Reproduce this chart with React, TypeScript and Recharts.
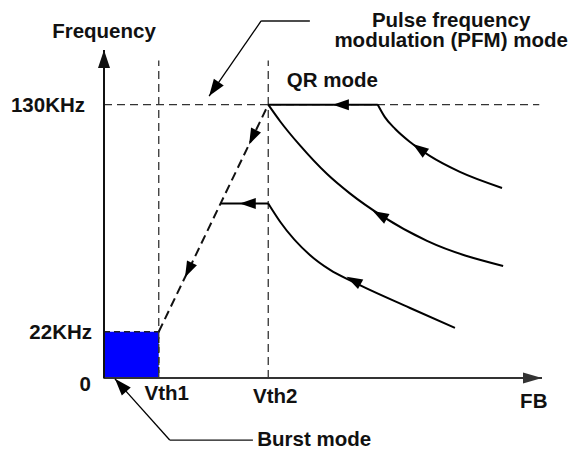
import React from 'react';
import { LineChart, Line, XAxis, YAxis, ReferenceLine, ReferenceArea, ReferenceDot } from 'recharts';

// axis extents (FB in arbitrary units, frequency in kHz)
const X_MAX = 8;
const Y_MAX = 156;
const GUIDE_TOP = 151;

const vthValues = [1, 3];
const vthLabels = ['Vth1', 'Vth2'];
const freqTicks = [0, 22, 130];
const freqLabels = ['0', '22KHz', '130KHz'];

const burstFreq = 22;
const maxFreq = 130;

// solid trajectories
const qrHold = [{ x: 3, y: 130 }, { x: 5, y: 130 }];
const pfmHold = [{ x: 2.13, y: 83 }, { x: 3, y: 83 }];
const curveTop = [
  { x: 5.0, y: 130 }, { x: 5.13, y: 124.1 }, { x: 5.32, y: 118.4 }, { x: 5.59, y: 112.2 },
  { x: 5.95, y: 105.6 }, { x: 6.5, y: 98.0 }, { x: 7.27, y: 90.4 },
];
const curveMid = [
  { x: 3.0, y: 130 }, { x: 3.22, y: 122.0 }, { x: 3.58, y: 110.6 }, { x: 4.07, y: 97.1 },
  { x: 4.49, y: 87.8 }, { x: 5.08, y: 77.0 }, { x: 5.9, y: 65.2 }, { x: 7.29, y: 53.3 },
];
const curveLow = [
  { x: 3.0, y: 83 }, { x: 3.22, y: 74.2 }, { x: 3.76, y: 58.5 },
  { x: 4.13, y: 51.4 }, { x: 4.55, y: 45.7 }, { x: 5.59, y: 33.3 }, { x: 6.41, y: 23.8 },
];

// direction arrows along the paths: [tail, tip]
const flowArrows = [
  [{ x: 4.5, y: 130 }, { x: 4.18, y: 130 }],
  [{ x: 2.8, y: 83 }, { x: 2.48, y: 83 }],
  [{ x: 5.95, y: 105.6 }, { x: 5.64, y: 111.3 }],
  [{ x: 5.15, y: 75.9 }, { x: 4.91, y: 79.4 }],
  [{ x: 4.68, y: 44.7 }, { x: 4.43, y: 48.2 }],
  [{ x: 2.9, y: 124.6 }, { x: 2.65, y: 111.1 }],
  [{ x: 1.7, y: 59.8 }, { x: 1.48, y: 47.9 }],
];

// callout leaders
const pfmLeader = [{ x: 3.76, y: 169.8 }, { x: 2.87, y: 169.8 }, { x: 1.92, y: 134.1 }];
const burstLeader = [{ x: 2.72, y: -29.5 }, { x: 1.2, y: -29.5 }, { x: 0.2, y: -0.4 }];

const notes = [
  { x: 0, y: 161.7, lines: ['Frequency'], anchor: 'middle' },
  { x: 6.34, y: 167.0, lines: ['Pulse frequency', 'modulation (PFM) mode'], anchor: 'middle' },
  { x: 3.34, y: 138.4, lines: ['QR mode'], anchor: 'start' },
  { x: 7.85, y: -14.3, lines: ['FB'], anchor: 'middle' },
  { x: 2.8, y: -32.3, lines: ['Burst mode'], anchor: 'start' },
];

const FONT = {
  fontFamily: '"Liberation Sans", Arial, sans-serif',
  fontWeight: 700,
  fontSize: 20.5,
  fill: '#111',
  style: { fontWeight: 'bold' },
};

const headPoints = (x1: number, y1: number, x2: number, y2: number, len: number, half: number) => {
  const a = Math.atan2(y2 - y1, x2 - x1);
  const bx = x2 - len * Math.cos(a);
  const by = y2 - len * Math.sin(a);
  const nx = -Math.sin(a) * half;
  const ny = Math.cos(a) * half;
  return `${x2},${y2} ${bx + nx},${by + ny} ${bx - nx},${by - ny}`;
};

const arrow = (o: { stroke: string; width: number; len: number; half: number; line?: boolean }) => (p: any) => {
  const x1 = +p.x1, y1 = +p.y1, x2 = +p.x2, y2 = +p.y2;
  return (
    <g>
      {o.line !== false && <line x1={x1} y1={y1} x2={x2} y2={y2} stroke={o.stroke} strokeWidth={o.width} />}
      <polygon points={headPoints(x1, y1, x2, y2, o.len, o.half)} fill={o.stroke} />
    </g>
  );
};

const noteShape = (lines: string[], anchor: string) => (p: any) => (
  <text x={p.cx} y={p.cy} textAnchor={anchor} {...FONT}>
    {lines.map((l, i) => (
      <tspan key={l} x={p.cx} dy={i === 0 ? 0 : 20}>{l}</tspan>
    ))}
  </text>
);

const vthShift: Record<string, [number, number]> = { Vth1: [8, 22], Vth2: [7, 25] };
const VthTick = (p: any) => {
  const label = vthLabels[vthValues.indexOf(p.payload.value)];
  const [dx, dy] = vthShift[label] || [0, 20];
  return <text x={p.x + dx} y={p.y + dy} textAnchor="middle" {...FONT}>{label}</text>;
};

const freqShift: Record<number, [number, number]> = { 0: [-13, 13], 22: [-12, 7], 130: [-19, 7] };
const FreqTick = (p: any) => {
  const v = p.payload.value;
  const label = freqLabels[freqTicks.indexOf(v)];
  const [dx, dy] = freqShift[v] || [-12, 7];
  return <text x={p.x + dx} y={p.y + dy} textAnchor="end" {...FONT}>{label}</text>;
};

const guide = { stroke: '#333', strokeWidth: 1.3, strokeDasharray: '8 5' };

export default function App() {
  return (
    <div style={{ position: 'absolute', left: 0, top: 0, width: 571, height: 450, background: '#fff' }}>
      <LineChart width={571} height={450} margin={{ top: 50, right: 29, bottom: 0, left: 0 }}>
        <XAxis type="number" dataKey="x" domain={[0, X_MAX]} allowDataOverflow ticks={vthValues}
          height={72} axisLine={false} tickLine={false} tickSize={0} tickMargin={0} tick={<VthTick />} />
        <YAxis type="number" dataKey="y" domain={[0, Y_MAX]} allowDataOverflow ticks={freqTicks}
          width={104} axisLine={false} tickLine={false} tickSize={0} tickMargin={0} tick={<FreqTick />} />

        <ReferenceArea x1={0} x2={vthValues[0]} y1={0} y2={burstFreq} ifOverflow="visible"
          fill="#0000ff" fillOpacity={1} stroke="#222" strokeWidth={1.5} strokeDasharray="6 4" />

        <ReferenceLine segment={[{ x: vthValues[0], y: 0 }, { x: vthValues[0], y: GUIDE_TOP }]} ifOverflow="visible" {...guide} />
        <ReferenceLine segment={[{ x: vthValues[1], y: 0 }, { x: vthValues[1], y: GUIDE_TOP }]} ifOverflow="visible" {...guide} />
        <ReferenceLine segment={[{ x: 0, y: maxFreq }, { x: 7.95, y: maxFreq }]} ifOverflow="visible" {...guide} />
        <ReferenceLine segment={[{ x: vthValues[0], y: burstFreq }, { x: vthValues[1], y: maxFreq }]} ifOverflow="visible"
          stroke="#111" strokeWidth={2} strokeDasharray="9 5" />

        <ReferenceLine segment={[{ x: 0, y: 0 }, { x: X_MAX, y: 0 }]} ifOverflow="visible"
          shape={arrow({ stroke: '#333', width: 2, len: 19, half: 5.5 })} />
        <ReferenceLine segment={[{ x: 0, y: 0 }, { x: 0, y: Y_MAX }]} ifOverflow="visible"
          shape={arrow({ stroke: '#111', width: 2, len: 18, half: 6 })} />

        {[qrHold, pfmHold, curveTop, curveMid, curveLow].map((d, i) => (
          <Line key={i} data={d} dataKey="y" type={i < 2 ? 'linear' : 'monotone'} stroke="#000"
            strokeWidth={2} dot={false} activeDot={false} isAnimationActive={false} />
        ))}

        {flowArrows.map((s, i) => (
          <ReferenceLine key={`f${i}`} segment={s} ifOverflow="visible"
            shape={arrow({ stroke: '#000', width: 2, len: 16, half: 5.5, line: false })} />
        ))}

        {[pfmLeader, burstLeader].map((pts, i) => (
          <React.Fragment key={`l${i}`}>
            <ReferenceLine segment={[pts[0], pts[1]]} ifOverflow="visible" stroke="#111" strokeWidth={1.3} />
            <ReferenceLine segment={[pts[1], pts[2]]} ifOverflow="visible"
              shape={arrow({ stroke: '#000', width: 1.3, len: 17, half: 6 })} />
          </React.Fragment>
        ))}

        {notes.map((n, i) => (
          <ReferenceDot key={`n${i}`} x={n.x} y={n.y} r={0} ifOverflow="visible"
            shape={noteShape(n.lines, n.anchor)} />
        ))}
      </LineChart>
    </div>
  );
}
